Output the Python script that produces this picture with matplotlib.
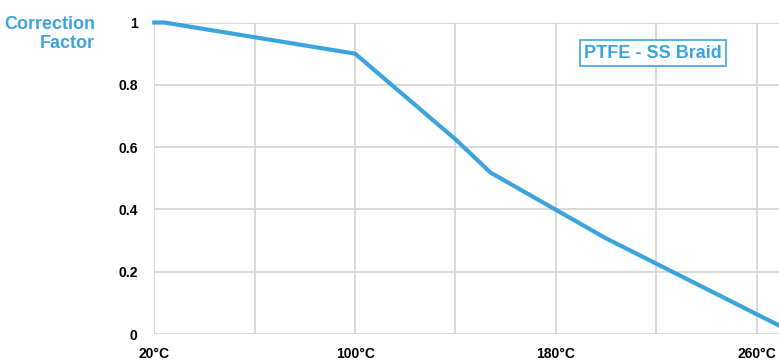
import matplotlib.pyplot as plt

temps = [20, 24, 100, 140, 154, 200, 269]
factor = [1.0, 1.0, 0.9, 0.625, 0.518, 0.307, 0.027]

x_ticks = [20, 100, 180, 260]
x_labels = ['20°C', '100°C', '180°C', '260°C']
y_ticks = [0, 0.2, 0.4, 0.6, 0.8, 1]
y_labels = ['0', '0.2', '0.4', '0.6', '0.8', '1']

blue = '#3ca3dc'
grid = '#d2d2d2'
fam = ['DejaVu Sans Condensed', 'Liberation Sans', 'DejaVu Sans']

fig = plt.figure(figsize=(7.79, 3.62), dpi=100)
ax = fig.add_axes([154.3 / 779, 28 / 362, 1 - 154.3 / 779, (334 - 22.5) / 362])

ax.plot(temps, factor, color=blue, lw=3, solid_joinstyle='round', zorder=3, clip_on=False)

ax.set_xlim(20, 268.9)
ax.set_ylim(0, 1)
ax.set_xticks(x_ticks)
ax.set_xticklabels(x_labels, family=fam, fontweight='bold', fontsize=10)
ax.set_yticks(y_ticks)
ax.set_yticklabels(y_labels, family=fam, fontweight='bold', fontsize=10)
ax.tick_params(length=0, pad=12)
ax.tick_params(axis='x', pad=9)

for t in range(20, 269, 40):
    ax.axvline(t, color=grid, lw=1.2, zorder=1)
for v in y_ticks:
    ax.axhline(v, color=grid, lw=1.2, zorder=1)
for s in ax.spines.values():
    s.set_visible(False)

fig.text(95 / 779, 1 - 34 / 362, 'Correction\nFactor', ha='right', va='center',
         color=blue, family=fam, fontweight='bold', fontsize=13, linespacing=1.1)

ax.text((653 - 154.3) / (779 - 154.3), (334 - 53) / (334 - 22.5), 'PTFE - SS Braid',
        transform=ax.transAxes, ha='center', va='center',
        color=blue, family=fam, fontweight='bold', fontsize=13,
        bbox=dict(boxstyle='square,pad=0.25', fc='white', ec=blue, lw=1.2))

fig.savefig('out.png', dpi=100)
